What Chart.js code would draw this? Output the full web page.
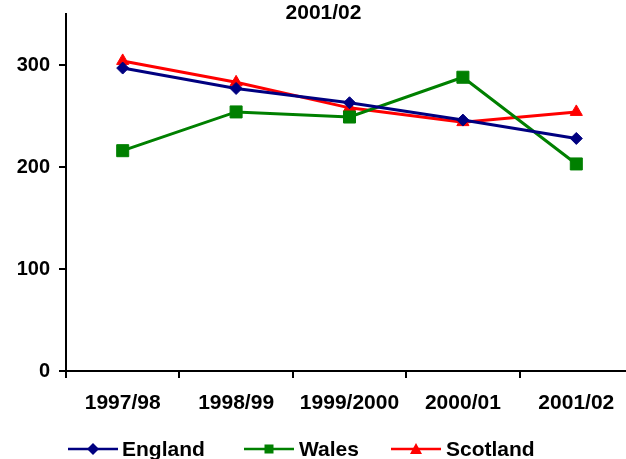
<!DOCTYPE html>
<html>
<head>
<meta charset="utf-8">
<script src="https://cdn.jsdelivr.net/npm/chart.js@4/dist/chart.umd.min.js"></script>
<style>
  html, body { margin: 0; padding: 0; background: #fff; overflow: hidden; width: 626px; height: 459px; }
  #wrap { position: relative; width: 626px; height: 459px; overflow: hidden; }
  canvas { position: absolute; left: 0; top: 0; }
  .lg { position: absolute; font: bold 21px "Liberation Sans", Arial, sans-serif; line-height: 21px; color: #000; white-space: nowrap; }
  #title { position: absolute; left: 0; top: 1px; width: 647px; text-align: center; font: bold 21px "Liberation Sans", Arial, sans-serif; line-height: 21px; color: #000; }
  .sym { position: absolute; }
</style>
</head>
<body>
<div id="wrap">
  <canvas id="c" width="647" height="459"></canvas>
  <div id="title"></div>
  <svg class="sym" style="left:68px;top:442px" width="50" height="14"><line x1="0" y1="7" x2="50" y2="7" stroke="#000080" stroke-width="2.5"/><polygon points="25,1 31,7 25,13 19,7" fill="#000080"/></svg>
  <div class="lg" style="left:122px;top:438px">England</div>
  <svg class="sym" style="left:244px;top:442px" width="50" height="14"><line x1="0" y1="7" x2="50" y2="7" stroke="#008000" stroke-width="2.5"/><rect x="20.5" y="2.5" width="9" height="9" fill="#008000"/></svg>
  <div class="lg" style="left:299px;top:438px">Wales</div>
  <svg class="sym" style="left:391px;top:442px" width="50" height="14"><line x1="0" y1="7" x2="50" y2="7" stroke="#FF0000" stroke-width="2.5"/><polygon points="25,1 31,12 19,12" fill="#FF0000"/></svg>
  <div class="lg" style="left:446px;top:438px">Scotland</div>
</div>
<script>
const categories = ['1997/98', '1998/99', '1999/2000', '2000/01', '2001/02'];
const england = [297, 277, 263, 246, 228];
const wales = [216, 254, 249, 288, 203];
const scotland = [304, 283, 258, 244, 254];
const yTicks = [0, 100, 200, 300];
const chartTitle = '2001/02';

document.getElementById('title').textContent = chartTitle;

const FONT = '"Liberation Sans", Arial, sans-serif';

new Chart(document.getElementById('c'), {
  type: 'line',
  data: {
    labels: categories,
    datasets: [
      { label: 'England', data: england, borderColor: '#000080', backgroundColor: '#000080',
        borderWidth: 3, pointStyle: 'rectRot', pointRadius: 6, pointBorderWidth: 1, tension: 0 },
      { label: 'Wales', data: wales, borderColor: '#008000', backgroundColor: '#008000',
        borderWidth: 3, pointStyle: 'rect', pointRadius: 8.5, pointBorderWidth: 1, tension: 0 },
      { label: 'Scotland', data: scotland, borderColor: '#FF0000', backgroundColor: '#FF0000',
        borderWidth: 3, pointStyle: 'triangle', pointRadius: 7, pointBorderWidth: 1, tension: 0 }
    ]
  },
  options: {
    responsive: false,
    animation: false,
    devicePixelRatio: 1,
    layout: { padding: { left: 0, right: 14, top: 14, bottom: 0 } },
    plugins: {
      legend: { display: false },
      tooltip: { enabled: false },
      title: { display: false }
    },
    scales: {
      x: {
        type: 'category',
        offset: true,
        grid: { display: true, offset: true, drawOnChartArea: false, drawTicks: true, tickLength: 7, color: '#000', lineWidth: 2 },
        border: { display: true, color: '#000', width: 2 },
        ticks: { color: '#000', padding: 13, maxRotation: 0, autoSkip: false,
          font: { family: FONT, size: 21, weight: 'bold' } },
        afterFit: s => { s.height = 88; s.paddingLeft = 0; s.paddingRight = 0; }
      },
      y: {
        min: 0, max: 350,
        afterBuildTicks: s => { s.ticks = yTicks.map(v => ({ value: v })); },
        grid: { display: true, drawOnChartArea: false, drawTicks: true, tickLength: 7, color: '#000', lineWidth: 2 },
        border: { display: true, color: '#000', width: 2 },
        ticks: { color: '#000', padding: 9, font: { family: FONT, size: 20, weight: 'bold' } },
        afterFit: s => { s.width = 66; s.paddingTop = 0; s.paddingBottom = 0; }
      }
    }
  }
});
</script>
</body>
</html>
